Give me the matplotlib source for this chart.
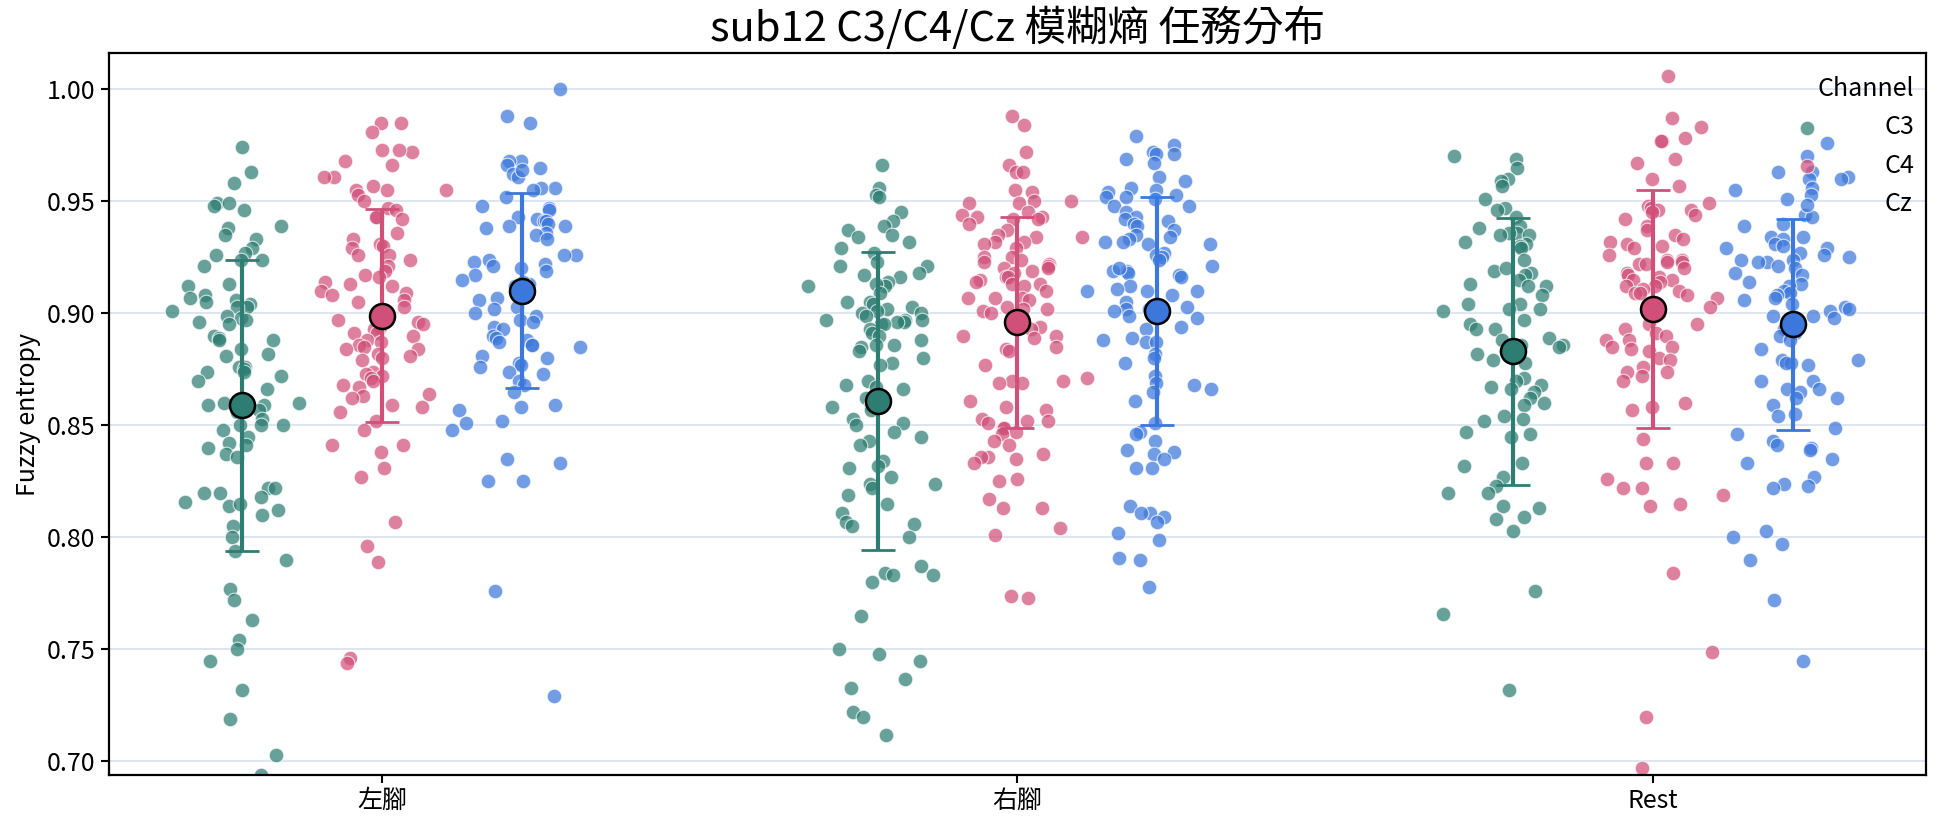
import numpy as np
import matplotlib
matplotlib.use("Agg")
import matplotlib.pyplot as plt

plt.rcParams['font.family'] = ['Noto Sans CJK TC', 'DejaVu Sans']

# ----------------------------
# Data
# ----------------------------
tasks = ["左腳", "右腳", "Rest"]
channels = ["C3", "C4", "Cz"]
colors = {"C3": "#2e7d73", "C4": "#d0507a", "Cz": "#3c78dc"}

left_c3 = [0.974, 0.963, 0.958, 0.949, 0.949, 0.948, 0.946, 0.939, 0.938, 0.935, 0.933, 0.929,
           0.927, 0.926, 0.924, 0.924, 0.921, 0.913, 0.912, 0.908, 0.907, 0.906, 0.905, 0.904,
           0.903, 0.903, 0.901, 0.899, 0.898, 0.897, 0.896, 0.895, 0.890, 0.889, 0.888, 0.888,
           0.884, 0.882, 0.881, 0.876, 0.876, 0.875, 0.874, 0.874, 0.872, 0.870, 0.866, 0.860,
           0.860, 0.860, 0.859, 0.859, 0.859, 0.857, 0.856, 0.853, 0.850, 0.850, 0.850, 0.848,
           0.845, 0.842, 0.841, 0.840, 0.837, 0.836, 0.822, 0.822, 0.820, 0.820, 0.818, 0.816,
           0.814, 0.815, 0.812, 0.810, 0.805, 0.800, 0.794, 0.790, 0.777, 0.772, 0.763, 0.754,
           0.750, 0.745, 0.732, 0.719, 0.703, 0.694]
left_c4 = [0.985, 0.985, 0.981, 0.972, 0.973, 0.973, 0.968, 0.966, 0.961, 0.961, 0.957, 0.955,
           0.955, 0.955, 0.953, 0.950, 0.947, 0.946, 0.943, 0.943, 0.942, 0.936, 0.933, 0.931,
           0.930, 0.929, 0.926, 0.926, 0.924, 0.921, 0.919, 0.917, 0.916, 0.914, 0.913, 0.912,
           0.910, 0.909, 0.908, 0.906, 0.905, 0.903, 0.900, 0.897, 0.896, 0.895, 0.894, 0.893,
           0.891, 0.891, 0.890, 0.888, 0.887, 0.886, 0.885, 0.884, 0.884, 0.882, 0.881, 0.880,
           0.879, 0.874, 0.873, 0.872, 0.871, 0.870, 0.868, 0.867, 0.864, 0.863, 0.862, 0.859,
           0.858, 0.856, 0.852, 0.848, 0.841, 0.841, 0.838, 0.831, 0.827, 0.807, 0.796, 0.789,
           0.746, 0.744]
left_cz = [1.000, 0.988, 0.985, 0.968, 0.968, 0.966, 0.965, 0.962, 0.961, 0.964, 0.956, 0.956,
           0.955, 0.952, 0.948, 0.947, 0.946, 0.943, 0.942, 0.941, 0.941, 0.940, 0.939, 0.939,
           0.938, 0.936, 0.935, 0.933, 0.926, 0.926, 0.924, 0.923, 0.922, 0.921, 0.920, 0.919,
           0.917, 0.915, 0.913, 0.914, 0.912, 0.911, 0.907, 0.906, 0.903, 0.902, 0.900, 0.899,
           0.897, 0.896, 0.894, 0.893, 0.890, 0.889, 0.888, 0.887, 0.886, 0.886, 0.885, 0.881,
           0.880, 0.878, 0.877, 0.876, 0.874, 0.873, 0.870, 0.868, 0.865, 0.859, 0.858, 0.857,
           0.852, 0.851, 0.848, 0.835, 0.833, 0.825, 0.825, 0.776, 0.729]
right_c3 = [0.966, 0.956, 0.953, 0.952, 0.945, 0.941, 0.939, 0.937, 0.935, 0.934, 0.932, 0.929,
            0.927, 0.923, 0.921, 0.921, 0.918, 0.917, 0.916, 0.914, 0.912, 0.912, 0.913, 0.909,
            0.905, 0.905, 0.904, 0.903, 0.902, 0.901, 0.900, 0.900, 0.899, 0.897, 0.897, 0.897,
            0.896, 0.896, 0.895, 0.895, 0.893, 0.891, 0.890, 0.888, 0.886, 0.886, 0.885, 0.883,
            0.880, 0.878, 0.877, 0.870, 0.868, 0.867, 0.866, 0.862, 0.859, 0.859, 0.858, 0.858,
            0.857, 0.853, 0.851, 0.850, 0.847, 0.845, 0.843, 0.841, 0.834, 0.832, 0.831, 0.827,
            0.824, 0.824, 0.822, 0.819, 0.815, 0.811, 0.807, 0.806, 0.805, 0.800, 0.787, 0.784,
            0.783, 0.783, 0.780, 0.765, 0.750, 0.748, 0.745, 0.737, 0.733, 0.722, 0.720, 0.712]
right_c4 = [0.988, 0.984, 0.972, 0.966, 0.963, 0.963, 0.955, 0.954, 0.950, 0.950, 0.949, 0.949,
            0.945, 0.944, 0.943, 0.943, 0.942, 0.942, 0.940, 0.937, 0.935, 0.934, 0.934, 0.932,
            0.932, 0.931, 0.929, 0.925, 0.925, 0.924, 0.923, 0.922, 0.921, 0.920, 0.920, 0.919,
            0.918, 0.916, 0.916, 0.915, 0.914, 0.913, 0.913, 0.912, 0.910, 0.907, 0.907, 0.907,
            0.906, 0.903, 0.902, 0.902, 0.901, 0.900, 0.894, 0.893, 0.890, 0.890, 0.889, 0.885,
            0.884, 0.883, 0.877, 0.871, 0.870, 0.870, 0.869, 0.869, 0.861, 0.858, 0.857, 0.853,
            0.852, 0.852, 0.851, 0.849, 0.849, 0.847, 0.846, 0.843, 0.841, 0.836, 0.836, 0.835,
            0.837, 0.833, 0.826, 0.825, 0.817, 0.813, 0.813, 0.804, 0.801, 0.773, 0.774]
right_cz = [0.979, 0.975, 0.972, 0.971, 0.971, 0.969, 0.967, 0.961, 0.959, 0.956, 0.955, 0.954,
            0.953, 0.952, 0.952, 0.951, 0.948, 0.948, 0.945, 0.943, 0.942, 0.941, 0.940, 0.939,
            0.937, 0.935, 0.934, 0.933, 0.932, 0.932, 0.931, 0.931, 0.927, 0.926, 0.925, 0.924,
            0.921, 0.919, 0.919, 0.918, 0.920, 0.917, 0.916, 0.912, 0.911, 0.910, 0.910, 0.910,
            0.908, 0.905, 0.903, 0.902, 0.902, 0.901, 0.899, 0.898, 0.894, 0.893, 0.889, 0.888,
            0.887, 0.887, 0.882, 0.880, 0.878, 0.872, 0.869, 0.868, 0.866, 0.865, 0.861, 0.851,
            0.847, 0.846, 0.843, 0.839, 0.838, 0.837, 0.835, 0.831, 0.831, 0.814, 0.811, 0.811,
            0.809, 0.807, 0.802, 0.799, 0.791, 0.790, 0.778]
rest_c3 = [0.970, 0.969, 0.965, 0.960, 0.959, 0.957, 0.951, 0.947, 0.946, 0.943, 0.938, 0.939,
           0.936, 0.936, 0.935, 0.935, 0.932, 0.931, 0.930, 0.929, 0.924, 0.919, 0.920, 0.918,
           0.917, 0.915, 0.913, 0.912, 0.912, 0.908, 0.904, 0.904, 0.902, 0.902, 0.901, 0.897,
           0.895, 0.893, 0.893, 0.889, 0.888, 0.886, 0.886, 0.885, 0.883, 0.883, 0.882, 0.879,
           0.878, 0.871, 0.870, 0.868, 0.867, 0.866, 0.865, 0.862, 0.860, 0.859, 0.854, 0.853,
           0.852, 0.847, 0.846, 0.845, 0.833, 0.832, 0.827, 0.823, 0.820, 0.820, 0.814, 0.813,
           0.809, 0.808, 0.803, 0.776, 0.766, 0.732]
rest_c4 = [1.006, 0.987, 0.983, 0.978, 0.977, 0.977, 0.969, 0.967, 0.960, 0.957, 0.949, 0.948,
           0.947, 0.946, 0.946, 0.945, 0.944, 0.942, 0.939, 0.937, 0.935, 0.933, 0.932, 0.931,
           0.930, 0.929, 0.926, 0.924, 0.924, 0.923, 0.922, 0.923, 0.922, 0.920, 0.918, 0.917,
           0.916, 0.915, 0.915, 0.914, 0.912, 0.912, 0.911, 0.910, 0.909, 0.909, 0.908, 0.907,
           0.903, 0.899, 0.900, 0.895, 0.895, 0.893, 0.891, 0.890, 0.888, 0.888, 0.885, 0.885,
           0.884, 0.883, 0.880, 0.879, 0.876, 0.874, 0.874, 0.872, 0.870, 0.860, 0.858, 0.857,
           0.844, 0.833, 0.833, 0.826, 0.822, 0.822, 0.819, 0.815, 0.814, 0.784, 0.749, 0.720,
           0.697]
rest_cz = [0.976, 0.970, 0.963, 0.963, 0.961, 0.960, 0.960, 0.956, 0.955, 0.953, 0.951, 0.944,
           0.943, 0.940, 0.939, 0.934, 0.934, 0.933, 0.931, 0.930, 0.929, 0.929, 0.927, 0.926,
           0.925, 0.924, 0.924, 0.923, 0.923, 0.921, 0.920, 0.918, 0.917, 0.914, 0.913, 0.912,
           0.910, 0.909, 0.908, 0.907, 0.906, 0.904, 0.903, 0.902, 0.901, 0.899, 0.899, 0.898,
           0.896, 0.894, 0.893, 0.891, 0.890, 0.888, 0.884, 0.879, 0.879, 0.878, 0.878, 0.877,
           0.870, 0.870, 0.866, 0.866, 0.865, 0.862, 0.862, 0.859, 0.855, 0.854, 0.849, 0.846,
           0.843, 0.841, 0.840, 0.839, 0.835, 0.833, 0.827, 0.824, 0.822, 0.823, 0.803, 0.800,
           0.797, 0.790, 0.772, 0.745]

# mean and SD markers as shown (rows: tasks, cols: C3, C4, Cz)
means = [[0.859, 0.899, 0.910],
         [0.861, 0.896, 0.901],
         [0.883, 0.902, 0.895]]
sds = [[0.065, 0.0475, 0.0435],
       [0.0665, 0.047, 0.051],
       [0.0595, 0.053, 0.047]]

data = {
    ("左腳", "C3"): left_c3, ("左腳", "C4"): left_c4, ("左腳", "Cz"): left_cz,
    ("右腳", "C3"): right_c3, ("右腳", "C4"): right_c4, ("右腳", "Cz"): right_cz,
    ("Rest", "C3"): rest_c3, ("Rest", "C4"): rest_c4, ("Rest", "Cz"): rest_cz,
}

# ----------------------------
# Plot
# ----------------------------
fig = plt.figure(figsize=(19.44, 8.27), dpi=100)
ax = fig.add_axes([0.056, 0.063, 0.9347, 0.8725])

offsets = {"C3": -0.22, "C4": 0.0, "Cz": 0.22}
rng = np.random.default_rng(7)

# jittered points
for i, task in enumerate(tasks):
    for ch in channels:
        vals = np.array(data[(task, ch)])
        jit = np.clip(rng.normal(0, 0.045, len(vals)), -0.11, 0.11)
        xs = i + offsets[ch] + jit
        ax.scatter(xs, vals, s=110, color=colors[ch], alpha=0.72,
                   edgecolor="white", linewidth=0.8, zorder=2,
                   label=ch if i == 0 else None)

# mean +- SD
for i, task in enumerate(tasks):
    for j, ch in enumerate(channels):
        m = means[i][j]
        sd = sds[i][j]
        ax.errorbar(i + offsets[ch], m, yerr=sd, fmt="none", ecolor=colors[ch],
                    elinewidth=3, capsize=12, capthick=2, zorder=3)
        ax.plot(i + offsets[ch], m, "o", markersize=18, markerfacecolor=colors[ch],
                markeredgecolor="black", markeredgewidth=1.8, zorder=4)

ax.set_xlim(-0.43, 2.43)
ax.set_ylim(0.694, 1.016)
ax.set_xticks(range(len(tasks)))
ax.set_xticklabels(tasks)
yt = np.arange(0.70, 1.001, 0.05)
ax.set_yticks(yt)
ax.set_yticklabels([f"{t:.2f}" for t in yt])
ax.tick_params(labelsize=18, length=6, width=1.5)
ax.grid(axis="y", color="#dde6ee", linewidth=1.4, zorder=0)
ax.set_axisbelow(True)
for sp in ax.spines.values():
    sp.set_linewidth(1.6)

ax.set_ylabel("Fuzzy entropy", fontsize=18)
ax.set_title("sub12 C3/C4/Cz 模糊熵 任務分布", fontsize=30, pad=9)

leg = ax.legend(title="Channel", loc="upper right", frameon=False, fontsize=18,
                title_fontsize=18, alignment="right", handletextpad=2.1,
                bbox_to_anchor=(1.006, 1.0))
for h in leg.legend_handles:
    h.set_alpha(0.72)

fig.savefig("out.png", dpi=100)
